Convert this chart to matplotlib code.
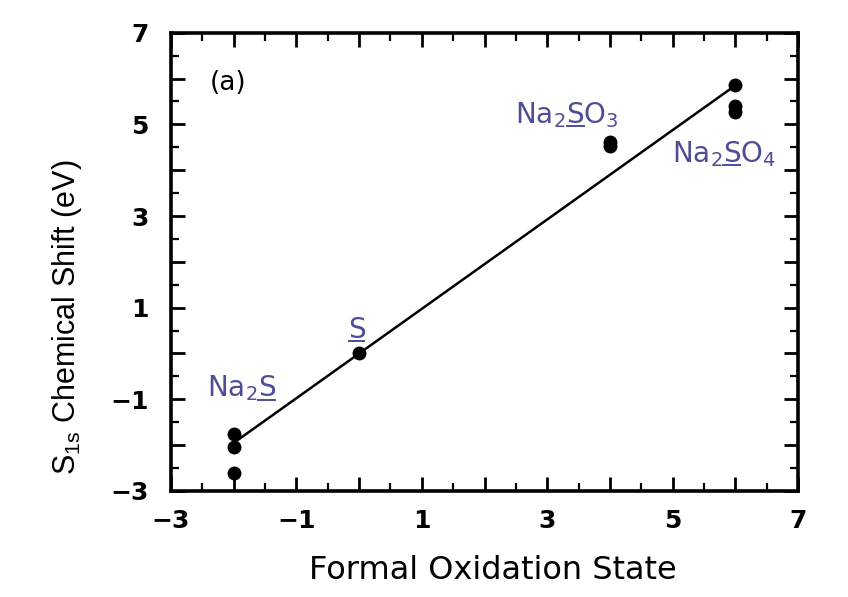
import matplotlib.pyplot as plt
from matplotlib.lines import Line2D
from matplotlib.ticker import MultipleLocator, FuncFormatter

plt.rcParams.update(
    {
        "font.family": ["DejaVu Sans"],
        "mathtext.default": "regular",
        "font.size": 14,
    }
)

# measured points (oxidation state, chemical shift)
ox_state = [-2, -2, -2, 0, 4, 4, 6, 6, 6]
shift = [-1.75, -2.03, -2.61, 0.0, 4.62, 4.52, 5.85, 5.4, 5.28]

# linear fit drawn through the data
fit_x = [-2, 6]
fit_y = [-1.95, 5.85]

# compound labels: text before the underlined S, the S, text after it
label_pre = ["Na$_2$", "", "Na$_2$", "Na$_2$"]
label_post = ["", "", "O$_3$", "O$_4$"]
label_x = [-2.43, -0.18, 2.49, 4.99]
label_y = [-0.94, 0.34, 5.03, 4.18]

label_color = "#4e4e96"
label_size = 20

fig = plt.figure(figsize=(8.48, 5.97), dpi=100)
ax = fig.add_axes([0.2017, 0.1776, 0.7394, 0.7676])

ax.plot(fit_x, fit_y, color="black", lw=1.8, zorder=2)
ax.plot(ox_state, shift, "o", color="black", ms=9, zorder=3)

ax.set_xlim(-3, 7)
ax.set_ylim(-3, 7)

renderer = fig.canvas.get_renderer()
W, H = fig.get_size_inches() * fig.dpi
for pre, post, x, y in zip(label_pre, label_post, label_x, label_y):
    ax.text(x, y, pre + "S" + post, color=label_color, fontsize=label_size,
            ha="left", va="baseline")
    # measure where the S sits so it can be underlined
    x0, y0 = ax.transData.transform((x, y))
    w1 = 0.0
    if pre:
        t = ax.text(x, y, pre, fontsize=label_size, ha="left", va="baseline")
        w1 = t.get_window_extent(renderer).width
        t.remove()
    t = ax.text(x, y, pre + "S", fontsize=label_size, ha="left", va="baseline")
    w2 = t.get_window_extent(renderer).width
    t.remove()
    yl = y0 - 3
    fig.add_artist(Line2D([(x0 + w1 + 1) / W, (x0 + w2 - 1) / W], [yl / H, yl / H],
                          color=label_color, lw=1.4))

ax.text(-2.38, 5.76, "(a)", fontsize=19, ha="left", va="baseline")

# long ticks every unit, labels only on odd values, short ticks every half unit
odd_only = FuncFormatter(lambda v, p: f"{int(round(v))}".replace("-", "\u2212") if int(round(v)) % 2 else "")
ax.xaxis.set_major_locator(MultipleLocator(1))
ax.yaxis.set_major_locator(MultipleLocator(1))
ax.xaxis.set_major_formatter(odd_only)
ax.yaxis.set_major_formatter(odd_only)
ax.xaxis.set_minor_locator(MultipleLocator(0.5))
ax.yaxis.set_minor_locator(MultipleLocator(0.5))

ax.tick_params(which="major", direction="in", top=True, right=True, length=10, width=2,
               labelsize=18)
ax.tick_params(which="minor", direction="in", top=True, right=True, length=5.5, width=1.6)
ax.tick_params(axis="x", which="major", pad=13)
ax.tick_params(axis="y", which="major", pad=16)
for lab in ax.get_xticklabels() + ax.get_yticklabels():
    lab.set_fontweight("bold")

for s in ax.spines.values():
    s.set_linewidth(2.6)

ax.set_xlabel("Formal Oxidation State", fontsize=23)
ax.set_ylabel(r"S$_{1s}$ Chemical Shift (eV)", fontsize=22, family="Liberation Sans")
ax.xaxis.set_label_coords(0.513, -0.14)
ax.yaxis.set_label_coords(-0.139, 0.378)

plt.savefig("out.png", dpi=100)
